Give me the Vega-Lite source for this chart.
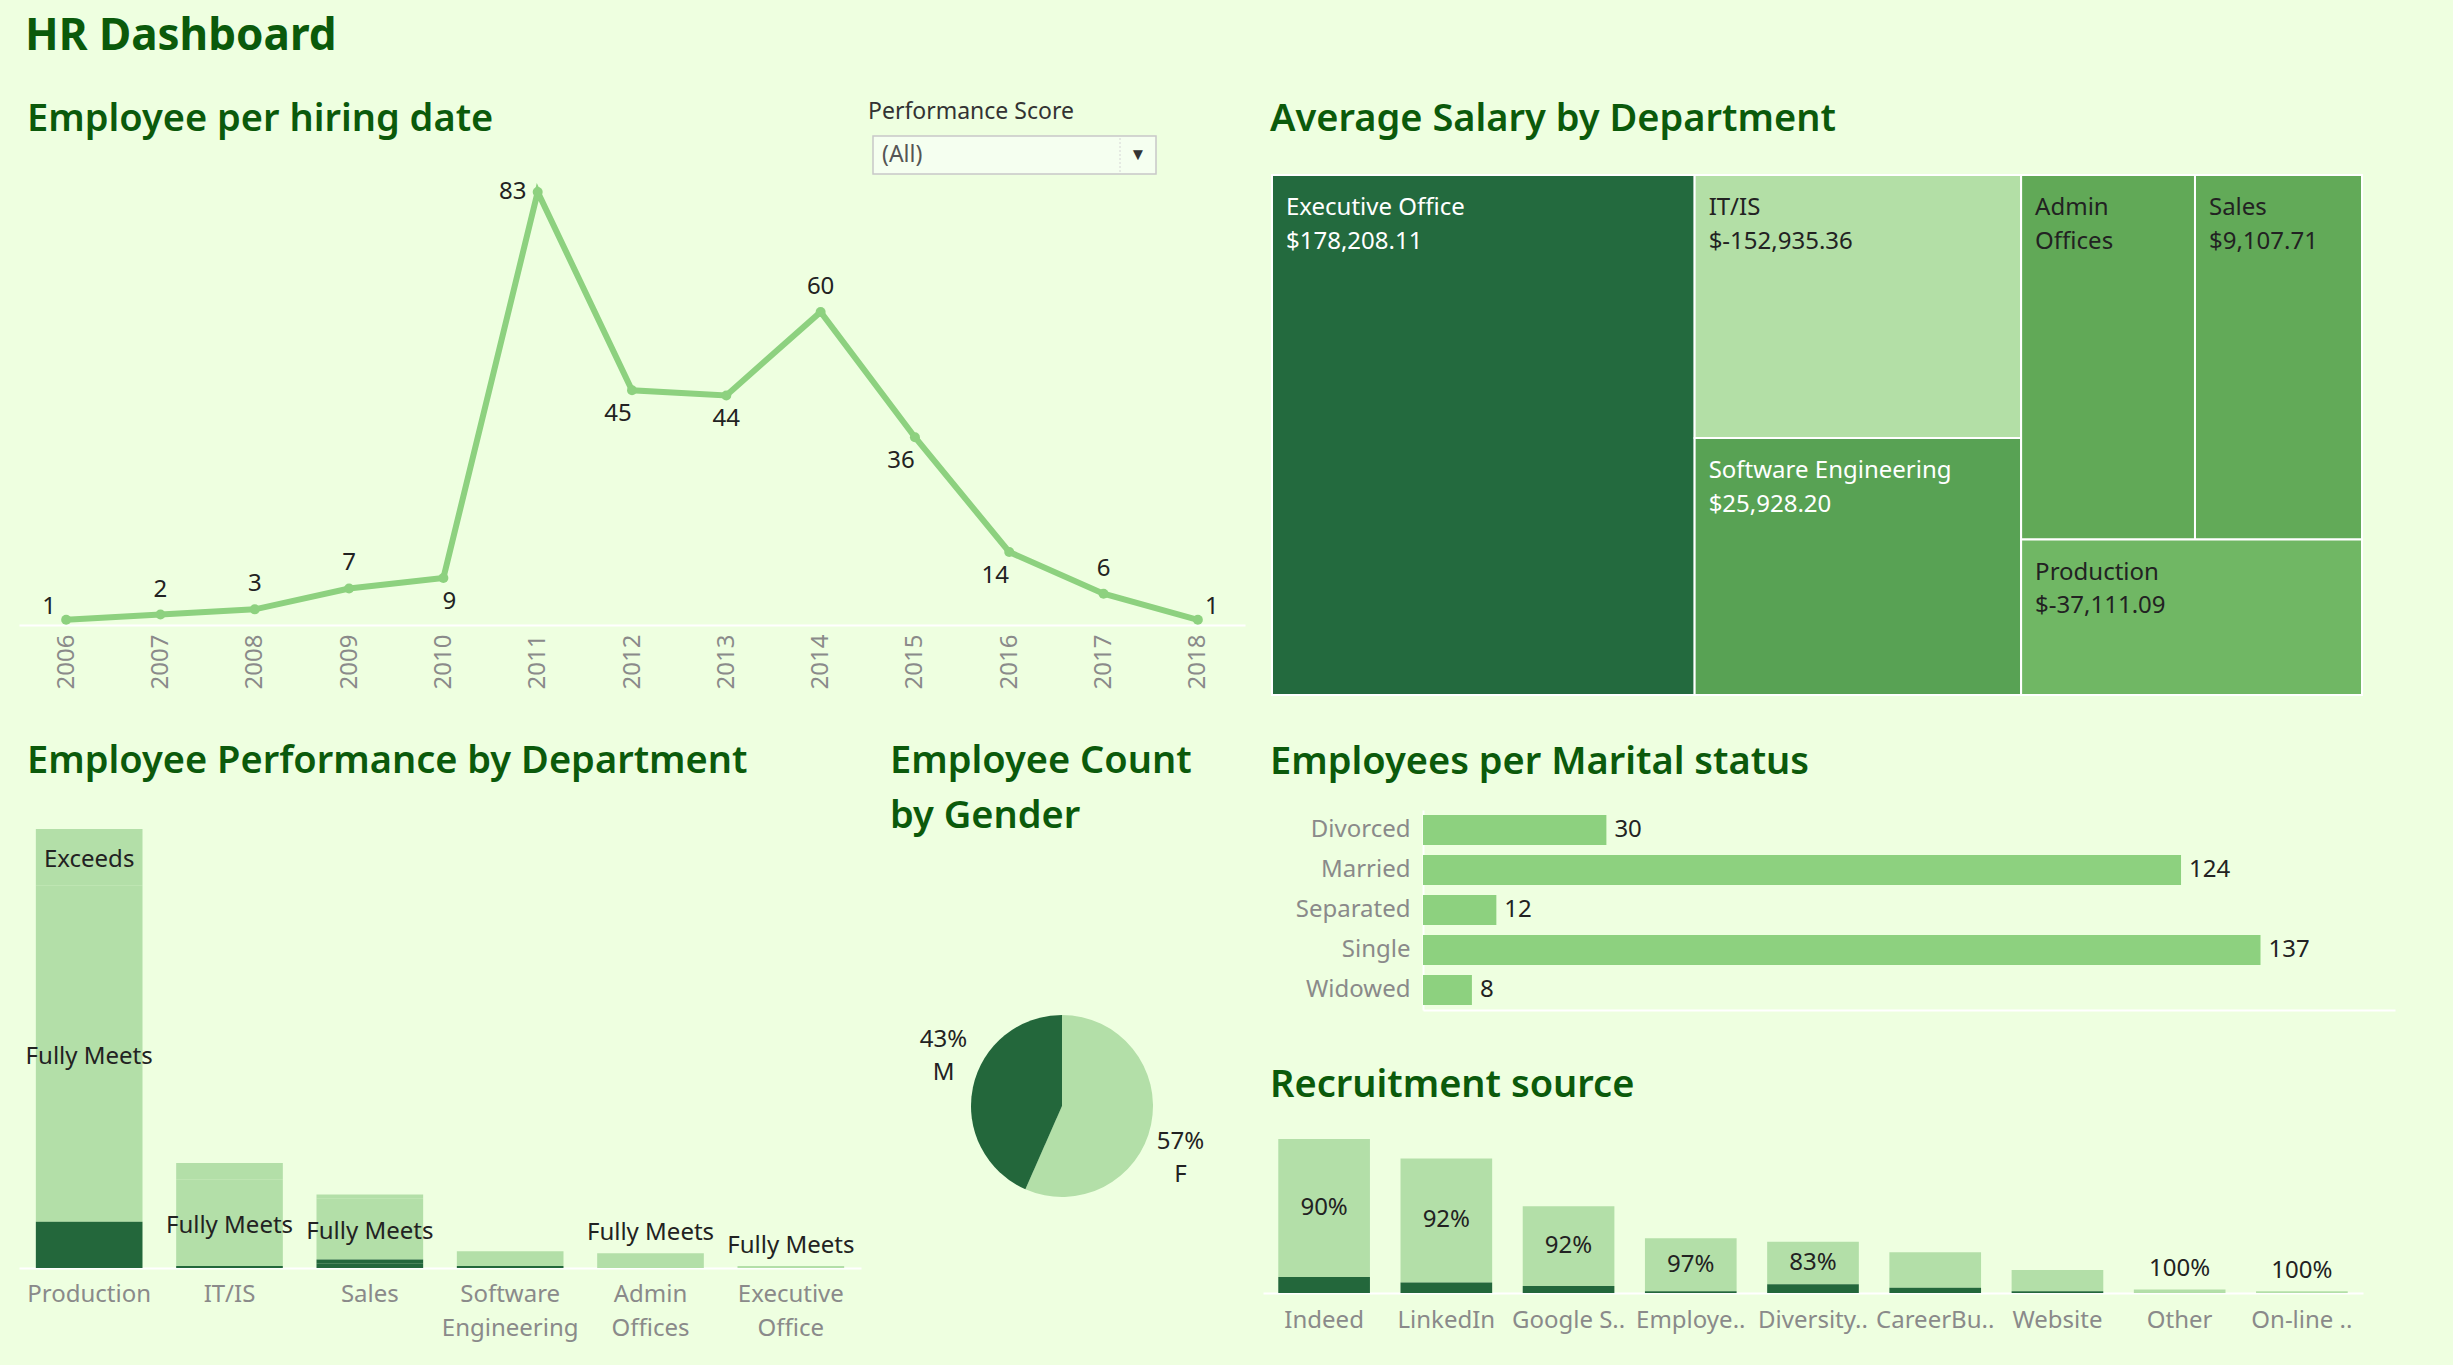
{
  "$schema": "https://vega.github.io/schema/vega-lite/v6.json",
  "background": "#eeffe0",
  "padding": {"left": 19, "top": 0, "right": 0, "bottom": 0},
  "autosize": {"type": "pad"},
  "bounds": "flush",
  "spacing": 0,
  "resolve": {"scale": {"color": "independent", "theta": "independent"}},
  "config": {
    "font": "Noto Sans",
    "view": {"stroke": null},
    "title": {"anchor": "start", "frame": "group", "fontSize": 38, "fontWeight": 600, "color": "#0b5a0b", "font": "Noto Sans"},
    "axis": {"labelFont": "Noto Sans"}
  },
  "datasets": {
    "none": [],
    "hires": [
      {"year": 2006, "hires": 1}, {"year": 2007, "hires": 2}, {"year": 2008, "hires": 3},
      {"year": 2009, "hires": 7}, {"year": 2010, "hires": 9}, {"year": 2011, "hires": 83},
      {"year": 2012, "hires": 45}, {"year": 2013, "hires": 44}, {"year": 2014, "hires": 60},
      {"year": 2015, "hires": 36}, {"year": 2016, "hires": 14}, {"year": 2017, "hires": 6},
      {"year": 2018, "hires": 1}
    ],
    "salary": [
      {"dept": "Executive Office", "salary": 178208.11, "weight": 38.77},
      {"dept": "IT/IS", "salary": -152935.36, "weight": 15.15},
      {"dept": "Software Engineering", "salary": 25928.20, "weight": 14.80},
      {"dept": "Admin Offices", "salary": 11500, "weight": 11.18},
      {"dept": "Sales", "salary": 9107.71, "weight": 10.74},
      {"dept": "Production", "salary": -37111.09, "weight": 9.35}
    ],
    "perf": [
      {"dept": "Production", "score": "Exceeds", "count": 27},
      {"dept": "Production", "score": "Fully Meets", "count": 160},
      {"dept": "Production", "score": "Needs Improvement", "count": 13},
      {"dept": "Production", "score": "PIP", "count": 9},
      {"dept": "IT/IS", "score": "Exceeds", "count": 8},
      {"dept": "IT/IS", "score": "Fully Meets", "count": 41},
      {"dept": "IT/IS", "score": "Needs Improvement", "count": 1},
      {"dept": "Sales", "score": "Exceeds", "count": 2},
      {"dept": "Sales", "score": "Fully Meets", "count": 29},
      {"dept": "Sales", "score": "Needs Improvement", "count": 2},
      {"dept": "Sales", "score": "PIP", "count": 2},
      {"dept": "Software Engineering", "score": "Fully Meets", "count": 7},
      {"dept": "Software Engineering", "score": "Needs Improvement", "count": 1},
      {"dept": "Admin Offices", "score": "Fully Meets", "count": 7},
      {"dept": "Executive Office", "score": "Fully Meets", "count": 1}
    ],
    "gender": [
      {"gender": "F", "count": 176},
      {"gender": "M", "count": 135}
    ],
    "marital": [
      {"status": "Divorced", "count": 30},
      {"status": "Married", "count": 124},
      {"status": "Separated", "count": 12},
      {"status": "Single", "count": 137},
      {"status": "Widowed", "count": 8}
    ],
    "recruit": [
      {"source": "Indeed", "group": "Meets or Exceeds", "count": 78},
      {"source": "Indeed", "group": "Below Expectations", "count": 9},
      {"source": "LinkedIn", "group": "Meets or Exceeds", "count": 70},
      {"source": "LinkedIn", "group": "Below Expectations", "count": 6},
      {"source": "Google Search", "group": "Meets or Exceeds", "count": 45},
      {"source": "Google Search", "group": "Below Expectations", "count": 4},
      {"source": "Employee Referral", "group": "Meets or Exceeds", "count": 30},
      {"source": "Employee Referral", "group": "Below Expectations", "count": 1},
      {"source": "Diversity Job Fair", "group": "Meets or Exceeds", "count": 24},
      {"source": "Diversity Job Fair", "group": "Below Expectations", "count": 5},
      {"source": "CareerBuilder", "group": "Meets or Exceeds", "count": 20},
      {"source": "CareerBuilder", "group": "Below Expectations", "count": 3},
      {"source": "Website", "group": "Meets or Exceeds", "count": 12},
      {"source": "Website", "group": "Below Expectations", "count": 1},
      {"source": "Other", "group": "Meets or Exceeds", "count": 2},
      {"source": "On-line Web application", "group": "Meets or Exceeds", "count": 1}
    ]
  },
  "hconcat": [
    {
      "bounds": "flush",
      "spacing": 0,
      "resolve": {"scale": {"color": "independent", "theta": "independent"}},
      "vconcat": [
        {
          "width": 1226, "height": 136,
          "data": {"name": "none"},
          "mark": {"type": "text", "text": ""},
          "title": {"text": "HR Dashboard", "fontSize": 44, "fontWeight": "bold", "offset": -59, "dx": 6}
        },
        {
          "bounds": "flush",
          "spacing": 0,
          "hconcat": [
            {
              "width": 854, "height": 38,
              "data": {"name": "none"},
              "mark": {"type": "text", "text": ""},
              "title": {"text": "Employee per hiring date", "offset": -3, "dx": 8}
            },
            {
              "width": 283, "height": 38,
              "view": {"fill": "#f5fff0", "stroke": "#c8c8c8", "strokeWidth": 1.5},
              "title": {"text": "Performance Score", "fontSize": 23, "fontWeight": "normal", "color": "#333333", "offset": 12, "dx": -5},
              "data": {"values": [{"filter": "(All)"}]},
              "layer": [
                {"mark": {"type": "text", "align": "left", "baseline": "middle", "fontSize": 23, "color": "#555555"},
                 "encoding": {"text": {"field": "filter", "type": "nominal"}, "x": {"value": 9}, "y": {"value": 19}}},
                {"mark": {"type": "rule", "color": "#d6d6d6", "strokeDash": [2, 2]},
                 "encoding": {"x": {"value": 247}, "y": {"value": 2}, "y2": {"value": 36}}},
                {"mark": {"type": "text", "text": "▼", "fontSize": 17, "color": "#333333", "baseline": "middle"},
                 "encoding": {"x": {"value": 265}, "y": {"value": 19}}}
              ]
            }
          ]
        },
        {"width": 1, "height": 56, "data": {"name": "none"}, "mark": {"type": "text", "text": ""}},
        {
          "width": 1226, "height": 433,
          "data": {"name": "hires"},
          "encoding": {
            "x": {"field": "year", "type": "ordinal", "scale": {"type": "point", "padding": 0.5},
                  "axis": {"title": null, "labelAngle": -90, "labelAlign": "right", "labelBaseline": "middle", "labelFontSize": 24, "labelColor": "#8a8a8a", "labelPadding": 9, "ticks": false, "domainColor": "#ffffff", "domainWidth": 2, "grid": false}},
            "y": {"field": "hires", "type": "quantitative", "scale": {"domain": [0, 83], "nice": false}, "axis": null}
          },
          "layer": [
            {"mark": {"type": "line", "color": "#8dd17f", "strokeWidth": 6}},
            {"mark": {"type": "point", "filled": true, "color": "#8dd17f", "size": 100, "opacity": 1}},
            {"transform": [{"filter": "indexof([2007, 2008, 2009, 2014, 2017], datum.year) >= 0"}],
             "mark": {"type": "text", "fontSize": 24, "color": "#222222", "dy": -25},
             "encoding": {"text": {"field": "hires", "type": "quantitative"}}},
            {"transform": [{"filter": "datum.year == 2013"}],
             "mark": {"type": "text", "fontSize": 24, "color": "#222222", "dy": 24},
             "encoding": {"text": {"field": "hires", "type": "quantitative"}}},
            {"transform": [{"filter": "indexof([2012, 2015, 2016], datum.year) >= 0"}],
             "mark": {"type": "text", "fontSize": 24, "color": "#222222", "dy": 24, "dx": -14},
             "encoding": {"text": {"field": "hires", "type": "quantitative"}}},
            {"transform": [{"filter": "datum.year == 2010"}],
             "mark": {"type": "text", "fontSize": 24, "color": "#222222", "dy": 24, "dx": 6},
             "encoding": {"text": {"field": "hires", "type": "quantitative"}}},
            {"transform": [{"filter": "datum.year == 2011"}],
             "mark": {"type": "text", "fontSize": 24, "color": "#222222", "dx": -25},
             "encoding": {"text": {"field": "hires", "type": "quantitative"}}},
            {"transform": [{"filter": "datum.year == 2006"}],
             "mark": {"type": "text", "fontSize": 24, "color": "#222222", "dx": -17, "dy": -13},
             "encoding": {"text": {"field": "hires", "type": "quantitative"}}},
            {"transform": [{"filter": "datum.year == 2018"}],
             "mark": {"type": "text", "fontSize": 24, "color": "#222222", "dx": 14, "dy": -13},
             "encoding": {"text": {"field": "hires", "type": "quantitative"}}}
          ]
        },
        {"width": 1, "height": 204, "data": {"name": "none"}, "mark": {"type": "text", "text": ""}},
        {
          "bounds": "flush",
          "spacing": 0,
          "resolve": {"scale": {"color": "independent", "theta": "independent"}},
          "hconcat": [
            {
              "width": 842, "height": 439,
              "title": {"text": "Employee Performance by Department", "offset": 48, "dx": 8},
              "data": {"name": "perf"},
              "transform": [
                {"calculate": "indexof(['PIP', 'Needs Improvement', 'Fully Meets', 'Exceeds'], datum.score)", "as": "ord"},
                {"stack": "count", "groupby": ["dept"], "sort": [{"field": "ord"}], "as": ["y0", "y1"]},
                {"calculate": "(datum.y0 + datum.y1) / 2", "as": "ymid"}
              ],
              "encoding": {
                "x": {"field": "dept", "type": "nominal",
                      "sort": ["Production", "IT/IS", "Sales", "Software Engineering", "Admin Offices", "Executive Office"],
                      "scale": {"paddingInner": 0.24, "paddingOuter": 0.12},
                      "axis": {"title": null, "labelAngle": 0, "labelExpr": "split(datum.label, ' ')", "labelLineHeight": 34, "labelFontSize": 24, "labelColor": "#8a8a8a", "labelPadding": 14, "ticks": false, "domainColor": "#ffffff", "domainWidth": 2}}
              },
              "layer": [
                {"mark": {"type": "bar"},
                 "encoding": {
                   "y": {"field": "y0", "type": "quantitative", "scale": {"domain": [0, 209], "nice": false}, "axis": null},
                   "y2": {"field": "y1"},
                   "color": {"field": "score", "type": "nominal", "scale": {"domain": ["Exceeds", "Fully Meets", "Needs Improvement", "PIP"], "range": ["#b3dfa8", "#b3dfa8", "#23673b", "#23673b"]}, "legend": null}
                 }},
                {"transform": [{"filter": "datum.count >= 20"}],
                 "mark": {"type": "text", "fontSize": 24, "color": "#222222", "dy": 3},
                 "encoding": {"y": {"field": "ymid", "type": "quantitative"}, "text": {"field": "score", "type": "nominal"}}},
                {"transform": [{"filter": "datum.score == 'Fully Meets' && (datum.dept == 'Admin Offices' || datum.dept == 'Executive Office')"}],
                 "mark": {"type": "text", "fontSize": 24, "color": "#222222", "dy": -20},
                 "encoding": {"y": {"field": "y1", "type": "quantitative"}, "text": {"field": "score", "type": "nominal"}}}
              ]
            },
            {"width": 28, "height": 1, "data": {"name": "none"}, "mark": {"type": "text", "text": ""}},
            {
              "bounds": "flush",
              "spacing": 0,
              "resolve": {"scale": {"color": "independent", "theta": "independent"}},
              "vconcat": [
                {"width": 1, "height": 127, "data": {"name": "none"}, "mark": {"type": "text", "text": ""}},
                {
                  "width": 346, "height": 300,
                  "title": {"text": ["Employee Count", "by Gender"], "lineHeight": 55, "offset": 120, "dx": 1},
                  "data": {"name": "gender"},
                  "transform": [
                    {"joinaggregate": [{"op": "sum", "field": "count", "as": "total"}]},
                    {"stack": "count", "groupby": [], "sort": [{"field": "gender", "order": "ascending"}], "as": ["t0", "t1"]},
                    {"calculate": "datum.t0 / datum.total", "as": "f0"},
                    {"calculate": "datum.t1 / datum.total", "as": "f1"},
                    {"calculate": "(datum.f0 + datum.f1) / 2", "as": "fmid"},
                    {"calculate": "[format(datum.count / datum.total, '.0%'), datum.gender]", "as": "lbl"}
                  ],
                  "layer": [
                    {"mark": {"type": "arc", "outerRadius": 91},
                     "encoding": {
                       "theta": {"field": "f0", "type": "quantitative", "scale": {"domain": [0, 1], "nice": false}},
                       "theta2": {"field": "f1"},
                       "color": {"field": "gender", "type": "nominal", "scale": {"domain": ["F", "M"], "range": ["#b3dfa8", "#23673b"]}, "legend": null}
                     }},
                    {"mark": {"type": "text", "radius": 129, "thetaOffset": 0.2, "dy": -15, "fontSize": 24, "lineHeight": 33, "baseline": "middle", "color": "#222222"},
                     "encoding": {
                       "theta": {"field": "fmid", "type": "quantitative", "scale": {"domain": [0, 1], "nice": false}},
                       "text": {"field": "lbl", "type": "nominal"}
                     }}
                  ]
                }
              ]
            }
          ]
        },
        {"width": 1, "height": 536, "data": {"name": "none"}, "mark": {"type": "text", "text": ""}}
      ]
    },
    {"width": 1244, "height": 1, "data": {"name": "none"}, "mark": {"type": "text", "text": ""}},
    {
      "bounds": "flush",
      "spacing": 0,
      "resolve": {"scale": {"color": "independent", "theta": "independent"}},
      "vconcat": [
        {"width": 1190, "height": 175, "data": {"name": "none"}, "mark": {"type": "text", "text": ""}},
        {
          "bounds": "flush",
          "spacing": 0,
          "hconcat": [
            {"width": 9, "height": 1, "data": {"name": "none"}, "mark": {"type": "text", "text": ""}},
            {
              "width": 1090, "height": 520,
              "title": {"text": "Average Salary by Department", "offset": 35, "dx": -2},
              "data": {"name": "salary"},
              "transform": [
                {"calculate": "datum.dept == 'Executive Office' ? 1 : ((datum.dept == 'IT/IS' || datum.dept == 'Software Engineering') ? 2 : 3)", "as": "col"},
                {"calculate": "(datum.dept == 'Software Engineering' || datum.dept == 'Production') ? 2 : 1", "as": "grp"},
                {"joinaggregate": [{"op": "sum", "field": "weight", "as": "total"}]},
                {"stack": "weight", "groupby": [], "sort": [{"field": "col", "order": "ascending"}, {"field": "weight", "order": "descending"}], "as": ["g0", "g1"]},
                {"joinaggregate": [{"op": "min", "field": "g0", "as": "cx0"}, {"op": "max", "field": "g1", "as": "cx1"}, {"op": "sum", "field": "weight", "as": "ctot"}], "groupby": ["col"]},
                {"stack": "weight", "groupby": ["col"], "sort": [{"field": "grp", "order": "ascending"}, {"field": "weight", "order": "descending"}], "as": ["v0", "v1"]},
                {"joinaggregate": [{"op": "min", "field": "v0", "as": "gy0"}, {"op": "max", "field": "v1", "as": "gy1"}, {"op": "sum", "field": "weight", "as": "gtot"}], "groupby": ["col", "grp"]},
                {"stack": "weight", "groupby": ["col", "grp"], "sort": [{"field": "weight", "order": "descending"}], "as": ["h0", "h1"]},
                {"calculate": "(datum.cx0 + (datum.cx1 - datum.cx0) * datum.h0 / datum.gtot) / datum.total", "as": "x0n"},
                {"calculate": "(datum.cx0 + (datum.cx1 - datum.cx0) * datum.h1 / datum.gtot) / datum.total", "as": "x1n"},
                {"calculate": "datum.gy0 / datum.ctot", "as": "y0n"},
                {"calculate": "datum.gy1 / datum.ctot", "as": "y1n"},
                {"calculate": "(datum.salary < 0 ? '$-' : '$') + format(abs(datum.salary), ',.2f')", "as": "salaryText"},
                {"calculate": "datum.dept == 'Admin Offices' ? ['Admin', 'Offices'] : [datum.dept, datum.salaryText]", "as": "lines"}
              ],
              "encoding": {
                "x": {"field": "x0n", "type": "quantitative", "scale": {"domain": [0, 1], "nice": false, "zero": false}, "axis": null},
                "y": {"field": "y0n", "type": "quantitative", "scale": {"domain": [0, 1], "nice": false, "reverse": true}, "axis": null}
              },
              "layer": [
                {"mark": {"type": "rect", "stroke": "#ffffff", "strokeWidth": 2},
                 "encoding": {
                   "x2": {"field": "x1n"},
                   "y2": {"field": "y1n"},
                   "color": {"field": "salary", "type": "quantitative",
                             "scale": {"type": "linear", "domain": [-152935.36, -37111.09, 9107.71, 25928.20, 178208.11], "range": ["#b3dfa6", "#70b764", "#62aa58", "#58a254", "#236a3e"]},
                             "legend": null}
                 }},
                {"mark": {"type": "text", "align": "left", "baseline": "top", "dx": 14, "dy": 21, "fontSize": 24, "lineHeight": 33.5},
                 "encoding": {
                   "text": {"field": "lines", "type": "nominal"},
                   "color": {"condition": {"test": "datum.salary > 20000", "value": "#ffffff"}, "value": "#222222"}
                 }}
              ]
            }
          ]
        },
        {"width": 1, "height": 635, "data": {"name": "none"}, "mark": {"type": "text", "text": ""}},
        {
          "bounds": "flush",
          "spacing": 0,
          "hconcat": [
            {"width": 160, "height": 1, "data": {"name": "none"}, "mark": {"type": "text", "text": ""}},
            {
              "width": 972, "height": 200,
              "title": {"text": "Employees per Marital status", "offset": 28, "dx": -153},
              "data": {"name": "marital"},
              "encoding": {
                "y": {"field": "status", "type": "nominal", "scale": {"paddingInner": 0.25, "paddingOuter": 0.125},
                      "axis": {"title": null, "labelFontSize": 24, "labelColor": "#8a8a8a", "labelPadding": 13, "ticks": false, "domainColor": "#ffffff", "domainWidth": 2}},
                "x": {"field": "count", "type": "quantitative", "scale": {"domain": [0, 159], "nice": false},
                      "axis": {"title": null, "labels": false, "ticks": false, "grid": false, "domainColor": "#ffffff", "domainWidth": 2}}
              },
              "layer": [
                {"mark": {"type": "bar", "color": "#8dd17f"}},
                {"mark": {"type": "text", "align": "left", "baseline": "middle", "dx": 8, "fontSize": 24, "color": "#222222"},
                 "encoding": {"text": {"field": "count", "type": "quantitative"}}}
              ]
            }
          ]
        },
        {"width": 1, "height": 329, "data": {"name": "none"}, "mark": {"type": "text", "text": ""}},
        {
          "width": 1100, "height": 154,
          "title": {"text": "Recruitment source", "offset": 34, "dx": 7},
          "data": {"name": "recruit"},
          "transform": [
            {"joinaggregate": [{"op": "sum", "field": "count", "as": "total"}], "groupby": ["source"]},
            {"calculate": "datum.group == 'Below Expectations' ? 0 : 1", "as": "ord"},
            {"stack": "count", "groupby": ["source"], "sort": [{"field": "ord"}], "as": ["y0", "y1"]},
            {"calculate": "(datum.y0 + datum.y1) / 2", "as": "ymid"},
            {"calculate": "format(datum.count / datum.total, '.0%')", "as": "pct"}
          ],
          "encoding": {
            "x": {"field": "source", "type": "nominal",
                  "sort": ["Indeed", "LinkedIn", "Google Search", "Employee Referral", "Diversity Job Fair", "CareerBuilder", "Website", "Other", "On-line Web application"],
                  "scale": {"paddingInner": 0.25, "paddingOuter": 0.125},
                  "axis": {"title": null, "labelAngle": 0, "labelFontSize": 24, "labelColor": "#8a8a8a", "labelPadding": 15, "ticks": false, "domainColor": "#ffffff", "domainWidth": 2,
                           "labelExpr": "datum.label == 'Google Search' ? 'Google S..' : datum.label == 'Employee Referral' ? 'Employe..' : datum.label == 'Diversity Job Fair' ? 'Diversity..' : datum.label == 'CareerBuilder' ? 'CareerBu..' : datum.label == 'On-line Web application' ? 'On-line ..' : datum.label"}}
          },
          "layer": [
            {"mark": {"type": "bar"},
             "encoding": {
               "y": {"field": "y0", "type": "quantitative", "scale": {"domain": [0, 87], "nice": false}, "axis": null},
               "y2": {"field": "y1"},
               "color": {"field": "group", "type": "nominal", "scale": {"domain": ["Meets or Exceeds", "Below Expectations"], "range": ["#b3dfa8", "#23673b"]}, "legend": null}
             }},
            {"transform": [{"filter": "datum.group == 'Meets or Exceeds' && datum.total >= 29 && datum.count < datum.total"}],
             "mark": {"type": "text", "fontSize": 24, "color": "#222222"},
             "encoding": {"y": {"field": "ymid", "type": "quantitative"}, "text": {"field": "pct", "type": "nominal"}}},
            {"transform": [{"filter": "datum.group == 'Meets or Exceeds' && datum.count == datum.total"}],
             "mark": {"type": "text", "fontSize": 24, "color": "#222222", "dy": -20},
             "encoding": {"y": {"field": "y1", "type": "quantitative"}, "text": {"field": "pct", "type": "nominal"}}}
          ]
        }
      ]
    }
  ]
}
